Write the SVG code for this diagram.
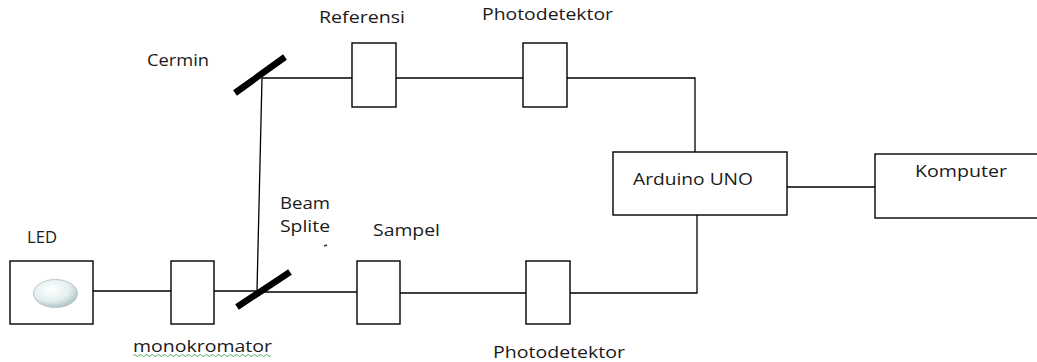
<svg xmlns="http://www.w3.org/2000/svg" width="1037" height="362" viewBox="0 0 1037 362">
  <defs>
    <radialGradient id="ledGrad" cx="0.4" cy="0.35" r="0.7">
      <stop offset="0" stop-color="#ffffff"/>
      <stop offset="0.6" stop-color="#e3eeee"/>
      <stop offset="1" stop-color="#a9bcbc"/>
    </radialGradient>
  </defs>
  <style>
    .box { fill: #ffffff; stroke: #000000; stroke-width: 1.4; }
    .wire { fill: none; stroke: #000000; stroke-width: 1.3; }
    .mirror { stroke: #000000; stroke-width: 6.5; stroke-linecap: butt; }
    .lbl { font-family: "Open Sans", "Noto Sans", sans-serif; font-size: 16px; fill: #1a1a1a; }
  </style>
  <rect width="1037" height="362" fill="#ffffff"/>

  <g id="connectors">
    <line class="wire" x1="93" y1="291" x2="171" y2="291"/>
    <line class="wire" x1="214" y1="291" x2="257" y2="291"/>
    <line class="wire" x1="257" y1="291" x2="262" y2="78"/>
    <line class="wire" x1="262" y1="78" x2="352" y2="78"/>
    <line class="wire" x1="396" y1="78" x2="523" y2="78"/>
    <polyline class="wire" points="567,78 695,78 695,152"/>
    <line class="wire" x1="257" y1="292" x2="357" y2="292"/>
    <line class="wire" x1="400" y1="293" x2="526" y2="293"/>
    <polyline class="wire" points="570,293 697,293 697,215"/>
    <line class="wire" x1="787" y1="187" x2="875" y2="187"/>
  </g>

  <g id="led">
    <rect class="box" x="10" y="261" width="83" height="63"/>
    <ellipse cx="55.5" cy="293.5" rx="22" ry="14" fill="url(#ledGrad)" stroke="#b9c9c9" stroke-width="1"/>
    <text class="lbl" x="27" y="243" textLength="30" lengthAdjust="spacingAndGlyphs">LED</text>
  </g>

  <g id="monokromator">
    <rect class="box" x="171" y="261" width="43" height="63"/>
    <text class="lbl" x="133" y="352" textLength="139" lengthAdjust="spacingAndGlyphs">monokromator</text>
    <path d="M133,355.5 q1.5,-2 3,0 t3,0 t3,0 t3,0 t3,0 t3,0 t3,0 t3,0 t3,0 t3,0 t3,0 t3,0 t3,0 t3,0 t3,0 t3,0 t3,0 t3,0 t3,0 t3,0 t3,0 t3,0 t3,0 t3,0 t3,0 t3,0 t3,0 t3,0 t3,0 t3,0 t3,0 t3,0 t3,0 t3,0 t3,0 t3,0 t3,0 t3,0 t3,0 t3,0 t3,0 t3,0 t3,0 t3,0 t3,0 t3,0" fill="none" stroke="#3aa04a" stroke-width="0.9"/>
  </g>

  <g id="beam-splitter">
    <line class="mirror" x1="237" y1="307" x2="290" y2="272"/>
    <text class="lbl" x="280" y="209" textLength="50" lengthAdjust="spacingAndGlyphs">Beam</text>
    <text class="lbl" x="280" y="232" textLength="50" lengthAdjust="spacingAndGlyphs">Splite</text>
    <line x1="324" y1="246" x2="327" y2="245" stroke="#333" stroke-width="1.5"/>
  </g>

  <g id="cermin">
    <line class="mirror" x1="235" y1="93" x2="285" y2="57"/>
    <text class="lbl" x="147" y="66" textLength="62" lengthAdjust="spacingAndGlyphs">Cermin</text>
  </g>

  <g id="referensi">
    <rect class="box" x="352" y="43" width="44" height="64"/>
    <text class="lbl" x="319" y="23" textLength="86" lengthAdjust="spacingAndGlyphs">Referensi</text>
  </g>

  <g id="photodetektor-ref">
    <rect class="box" x="523" y="43" width="44" height="64"/>
    <text class="lbl" x="482" y="20" textLength="131" lengthAdjust="spacingAndGlyphs">Photodetektor</text>
  </g>

  <g id="sampel">
    <rect class="box" x="357" y="261" width="43" height="63"/>
    <text class="lbl" x="373" y="236" textLength="67" lengthAdjust="spacingAndGlyphs">Sampel</text>
  </g>

  <g id="photodetektor-sampel">
    <rect class="box" x="526" y="261" width="44" height="63"/>
    <text class="lbl" x="493" y="358" textLength="132" lengthAdjust="spacingAndGlyphs">Photodetektor</text>
  </g>

  <g id="arduino">
    <rect class="box" x="613" y="152" width="174" height="63"/>
    <text class="lbl" x="633" y="185" textLength="120" lengthAdjust="spacingAndGlyphs">Arduino UNO</text>
  </g>

  <g id="komputer">
    <rect class="box" x="875" y="154" width="170" height="64"/>
    <text class="lbl" x="915" y="177" textLength="92" lengthAdjust="spacingAndGlyphs">Komputer</text>
  </g>
</svg>
